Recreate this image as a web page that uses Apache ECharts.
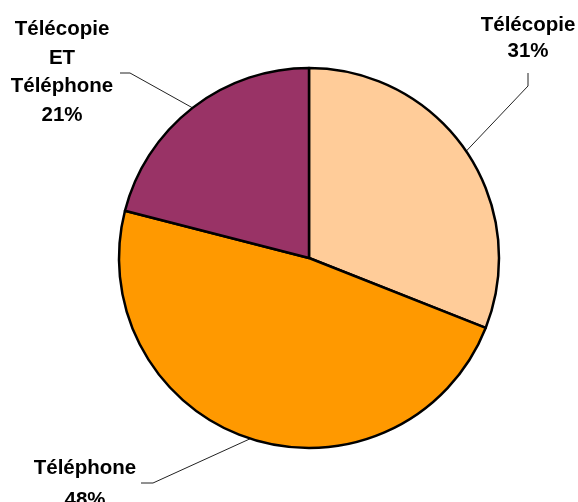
<!DOCTYPE html>
<html>
<head>
<meta charset="utf-8">
<style>
  html, body { margin: 0; padding: 0; background: #fff; }
  #chart { width: 578px; height: 502px; }
</style>
<script src="https://cdn.jsdelivr.net/npm/echarts@6/dist/echarts.min.js"></script>
</head>
<body>
<div id="chart"></div>
<script>
// Répartition des moyens de transmission
const categories = ['Télécopie', 'Téléphone', 'Télécopie\nET\nTéléphone'];
const shares = [31, 48, 21];
const sliceColors = ['#FFCC99', '#FF9900', '#993366'];

// Label placement: text block (centre x, top y, line height) and the leader line elbow/end
const labelSpots = [
  { x: 528, y: 12, lh: 26.5, elbow: [528, 86], end: [528, 73] },
  { x: 85,  y: 452, lh: 32.5, elbow: [153, 483], end: [141, 483] },
  { x: 62,  y: 15, lh: 28.6, elbow: [130, 73], end: [120, 73] }
];

const chart = echarts.init(document.getElementById('chart'), null, { renderer: 'canvas' });

chart.setOption({
  backgroundColor: '#ffffff',
  animation: false,
  series: [{
    type: 'pie',
    center: [309, 258],
    radius: 190,
    startAngle: 90,
    clockwise: true,
    avoidLabelOverlap: false,
    data: categories.map((name, i) => ({
      name: name,
      value: shares[i],
      itemStyle: { color: sliceColors[i] },
      label: { lineHeight: labelSpots[i].lh }
    })),
    itemStyle: { borderColor: '#000', borderWidth: 2.5 },
    label: {
      show: true,
      formatter: p => p.name + '\n' + p.value + '%',
      fontFamily: 'Liberation Sans, Arial, sans-serif',
      fontWeight: 'bold',
      fontSize: 20.5,
      color: '#000',
      align: 'center'
    },
    labelLine: {
      show: true,
      length: 20,
      length2: 10,
      lineStyle: { color: '#222', width: 1 }
    },
    labelLayout: function (params) {
      const s = labelSpots[params.dataIndex];
      const anchor = params.labelLinePoints ? params.labelLinePoints[0] : s.elbow;
      return {
        x: s.x,
        y: s.y,
        align: 'center',
        verticalAlign: 'top',
        labelLinePoints: [anchor, s.elbow, s.end]
      };
    }
  }]
});
</script>
</body>
</html>
